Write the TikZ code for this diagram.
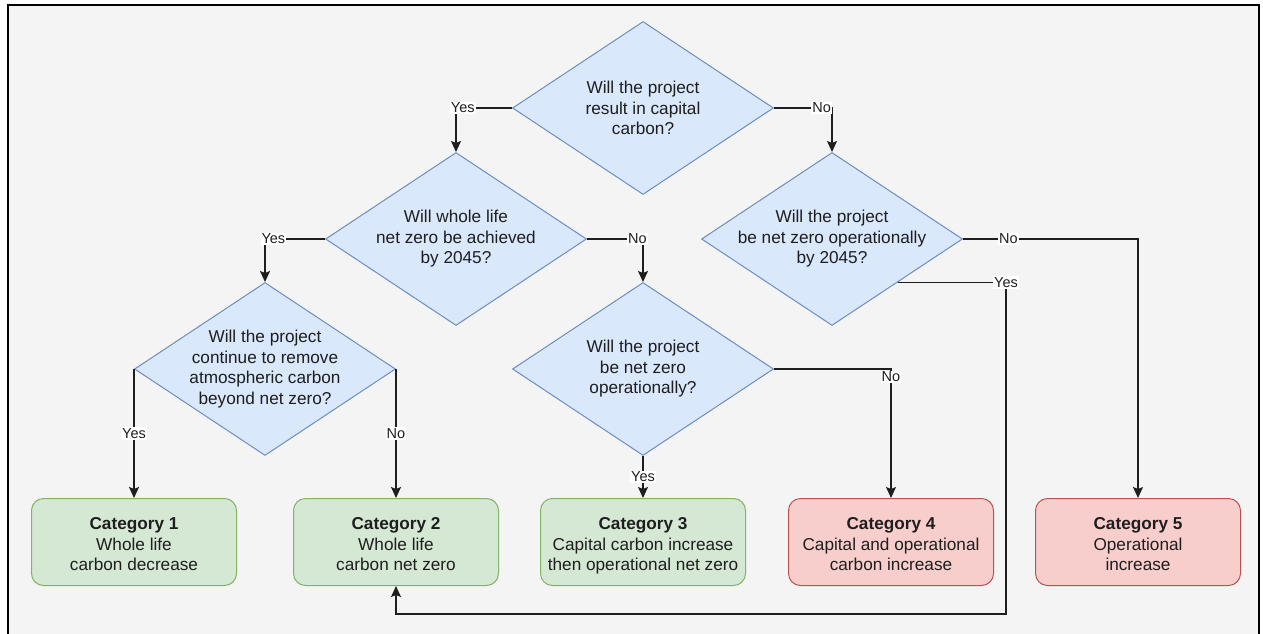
\documentclass[tikz,border=0pt]{standalone}
\usepackage{fontspec}
\setmainfont{Liberation Sans}
\usetikzlibrary{shapes.geometric,arrows.meta}
\definecolor{bg}{HTML}{F4F4F4}
\definecolor{ink}{HTML}{1E1E1E}
\definecolor{qfill}{HTML}{DAE8FC}
\definecolor{qdraw}{HTML}{6C8EBF}
\definecolor{gfill}{HTML}{D5E8D4}
\definecolor{gdraw}{HTML}{82B366}
\definecolor{rfill}{HTML}{F8CECC}
\definecolor{rdraw}{HTML}{B85450}
\newcommand{\cathead}[1]{\rule{0pt}{20.5pt}\textbf{#1}}
\tikzset{
  question/.style={diamond, aspect=1.5, draw=qdraw, fill=qfill, line width=1pt,
    minimum width=261pt, minimum height=173pt, inner sep=-20pt, align=center,
    text=ink, font=\fontsize{17.2}{20.5}\selectfont},
  catbox/.style={rectangle, rounded corners=12pt, line width=1pt, minimum width=205pt,
    minimum height=87pt, align=center, text=ink, font=\fontsize{17.2}{20.5}\selectfont,
    execute at end node={\rule[-4pt]{0pt}{4pt}}},
  good/.style={catbox, draw=gdraw, fill=gfill},
  bad/.style={catbox, draw=rdraw, fill=rfill},
  flow/.style={draw=ink, line width=1.3pt, -{Stealth[length=11pt,width=10pt,inset=2pt]}},
  ans/.style={fill=white, inner sep=1pt, text=ink, font=\fontsize{14.5}{16}\selectfont},
}

\begin{document}
\begin{tikzpicture}[x=1pt,y=-1pt]
  \useasboundingbox (0,0) rectangle (1263,634);
  \clip (0,0) rectangle (1263,634);
  \draw[line width=2pt, fill=bg] (8,5) rectangle (1259,660);

  % questions
  \node[question] (capital)   at (643,108) {Will the project\\result in capital\\carbon?};
  \node[question] (wholelife) at (456,239) {Will whole life\\net zero be achieved\\by 2045?};
  \node[question] (opnzyear)  at (832,239) {Will the project\\be net zero operationally\\by 2045?};
  \node[question] (remove)    at (265,369) {Will the project\\continue to remove\\atmospheric carbon\\beyond net zero?};
  \node[question] (opnz)      at (643,369) {Will the project\\be net zero\\operationally?};

  % categories
  \node[good] (cat1) at (134,542) {\cathead{Category 1}\\Whole life\\carbon decrease};
  \node[good] (cat2) at (396,542) {\cathead{Category 2}\\Whole life\\carbon net zero};
  \node[good] (cat3) at (643,542) {\cathead{Category 3}\\Capital carbon increase\\then operational net zero};
  \node[bad]  (cat4) at (891,542) {\cathead{Category 4}\\Capital and operational\\carbon increase};
  \node[bad]  (cat5) at (1138,542) {\cathead{Category 5}\\Operational\\increase};

  \coordinate (loopturn) at (1006,614);

  \draw[flow] (capital.west) -| node[ans,pos=0.44] {Yes} (wholelife.north);
  \draw[flow] (capital.east) -| node[ans,pos=0.41] {No} (opnzyear.north);
  \draw[flow] (wholelife.west) -| node[ans,pos=0.43] {Yes} (remove.north);
  \draw[flow] (wholelife.east) -| node[ans,pos=0.45] {No} (opnz.north);
  \draw[flow] (opnzyear.east) -| node[ans,pos=0.13] {No} (cat5.north);
  \draw[flow] (opnzyear.south east) -| node[ans,pos=0.5] {Yes} (loopturn) -| (cat2.south);
  \draw[flow] (remove.west) -- node[ans] {Yes} (remove.west |- cat1.north);
  \draw[flow] (remove.east) -- node[ans] {No} (remove.east |- cat2.north);
  \draw[flow] (opnz.south) -- node[ans] {Yes} (cat3.north);
  \draw[flow] (opnz.east) -| node[ans,pos=0.53] {No} (cat4.north);
\end{tikzpicture}
\end{document}
